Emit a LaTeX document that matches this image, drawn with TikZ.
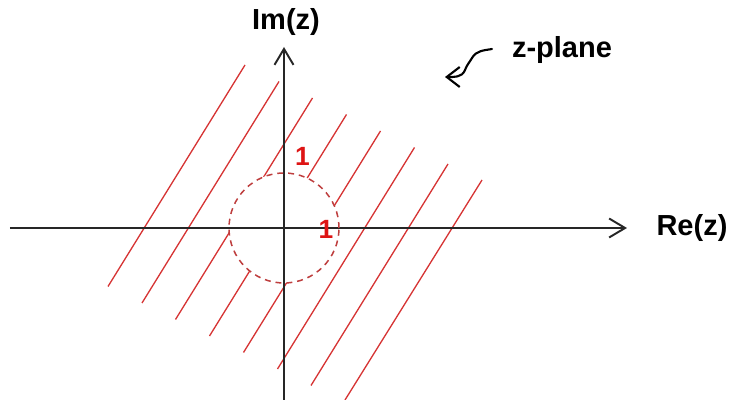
\documentclass[tikz,border=0pt]{standalone}
\usepackage{fontspec}
\setmainfont{Liberation Sans}
\usepackage{tikz}
\usetikzlibrary{positioning}
\usetikzlibrary{arrows.meta}
\usepackage{xcolor}

\definecolor{hatchred}{RGB}{214,52,52}
\definecolor{circred}{RGB}{190,62,62}
\definecolor{onered}{RGB}{222,20,20}
\definecolor{axisgray}{RGB}{38,38,38}

\begin{document}
\begin{tikzpicture}[
    axis/.style={-{Straight Barb[length=3.2mm, width=3.8mm]}, line width=1.1pt, draw=axisgray},
    hatch/.style={draw=hatchred, line width=0.75pt},
    unitcirc/.style={draw=circred, line width=0.85pt, dash pattern=on 3.4pt off 2.8pt},
    lbl/.style={font=\bfseries\fontsize{16.5}{19}\selectfont, text=black},
    onelbl/.style={font=\bfseries\fontsize{15}{17}\selectfont, text=onered, inner sep=0pt},
    pen/.style={-{Straight Barb[length=2.6mm, width=4mm]}, line width=1.2pt, line cap=round}
]
    \useasboundingbox (-5.68,-3.44) rectangle (8.92,4.56);

    % Region outside the unit circle
    \draw[hatch] (-0.78,3.26) -- (-3.52,-1.17);
    \draw[hatch] (-0.10,2.93) -- (-2.84,-1.50);
    \draw[hatch] (0.57,2.60) -- (-2.17,-1.83);
    \draw[hatch] (1.25,2.27) -- (-1.49,-2.16);
    \draw[hatch] (1.93,1.94) -- (-0.81,-2.49);
    \draw[hatch] (2.61,1.61) -- (-0.13,-2.82);
    \draw[hatch] (3.28,1.28) -- (0.54,-3.15);
    \draw[hatch] (3.96,0.96) -- (1.22,-3.44);

    % Inside of the circle is left blank
    \fill[white] (0,0) circle (1.1);

    % Axes
    \coordinate (xfrom) at (-5.48,0);
    \coordinate (xto) at (6.86,0);
    \coordinate (yfrom) at (0,-3.44);
    \coordinate (yto) at (0,3.62);
    \draw[axis] (xfrom) -- (xto);
    \draw[axis] (yfrom) -- (yto);

    % Unit circle
    \draw[unitcirc] (0,0) circle (1.1);

    % Labels
    \node[lbl] (re) at (8.16,0) {Re(z)};
    \node[lbl] (im) at (0.04,4.12) {Im(z)};
    \node[lbl] (zp) at (5.56,3.56) {z-plane};
    \node[onelbl] (oneim) at (0.37,1.44) {1};
    \node[onelbl] (onere) at (0.84,-0.02) {1};

    % Pointer to the plane label
    \coordinate (ptrfrom) at (4.16,3.58);
    \coordinate (ptrto) at (3.22,3.02);
    \draw[pen] (ptrfrom) to[out=190, in=60] (3.76,3.40)
        to[out=240, in=70] (3.62,3.16)
        to[out=250, in=0] (ptrto);
\end{tikzpicture}
\end{document}
